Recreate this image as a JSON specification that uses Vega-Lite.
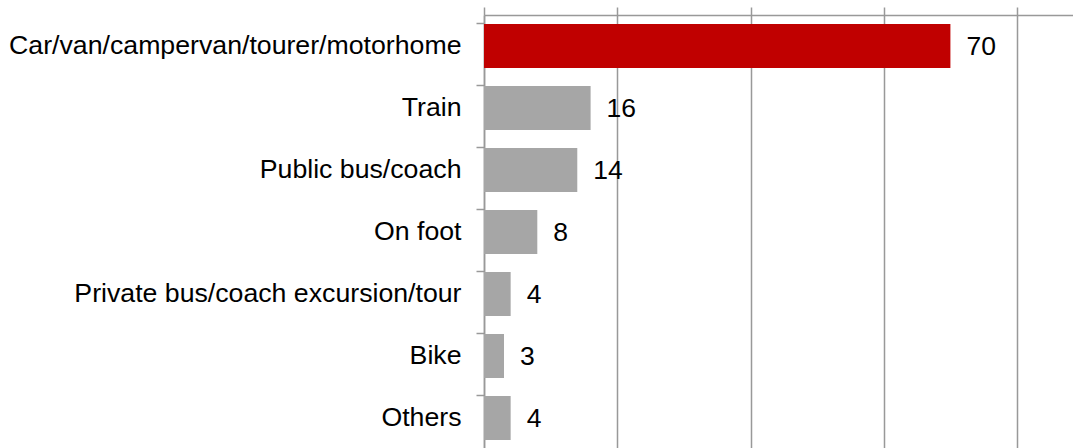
{
  "$schema": "https://vega.github.io/schema/vega-lite/v6.json",
  "width": 589,
  "height": 434,
  "autosize": "none",
  "padding": {"left": 484, "top": 15, "right": 0, "bottom": 0},
  "background": "white",
  "config": {"view": {"stroke": null}, "font": "Liberation Sans"},
  "data": {
    "values": [
      {"mode": "Car/van/campervan/tourer/motorhome", "pct": 70, "highlight": "yes"},
      {"mode": "Train", "pct": 16, "highlight": "no"},
      {"mode": "Public bus/coach", "pct": 14, "highlight": "no"},
      {"mode": "On foot", "pct": 8, "highlight": "no"},
      {"mode": "Private bus/coach excursion/tour", "pct": 4, "highlight": "no"},
      {"mode": "Bike", "pct": 3, "highlight": "no"},
      {"mode": "Others", "pct": 4, "highlight": "no"}
    ]
  },
  "encoding": {
    "y": {
      "field": "mode", "type": "nominal", "sort": null,
      "scale": {"paddingInner": 0.29, "paddingOuter": 0.145},
      "axis": {
        "title": null, "bandPosition": 0,
        "domainColor": "#999999", "domainWidth": 1.5,
        "tickColor": "#999999", "tickWidth": 1.5, "tickSize": 8,
        "labelFontSize": 26.7, "labelColor": "#000000", "labelPadding": 15,
        "labelLimit": 0, "labelFont": "Liberation Sans", "grid": false
      }
    },
    "x": {
      "field": "pct", "type": "quantitative",
      "scale": {"domain": [0, 88.4], "nice": false, "zero": true},
      "axis": {
        "orient": "top", "title": null, "labels": false,
        "values": [0, 20, 40, 60, 80],
        "domainColor": "#999999", "domainWidth": 1.5,
        "tickColor": "#999999", "tickWidth": 1.5, "tickSize": 8,
        "grid": true, "gridColor": "#999999", "gridWidth": 1.5, "gridOpacity": 1
      }
    }
  },
  "layer": [
    {
      "mark": {"type": "bar"},
      "encoding": {
        "color": {
          "field": "highlight", "type": "nominal",
          "scale": {"domain": ["yes", "no"], "range": ["#C00000", "#A6A6A6"]},
          "legend": null
        }
      }
    },
    {
      "mark": {"type": "text", "align": "left", "baseline": "middle", "dx": 16, "dy": 1, "fontSize": 26.5, "font": "Liberation Sans", "color": "#000000"},
      "encoding": {"text": {"field": "pct", "type": "quantitative"}}
    }
  ]
}
